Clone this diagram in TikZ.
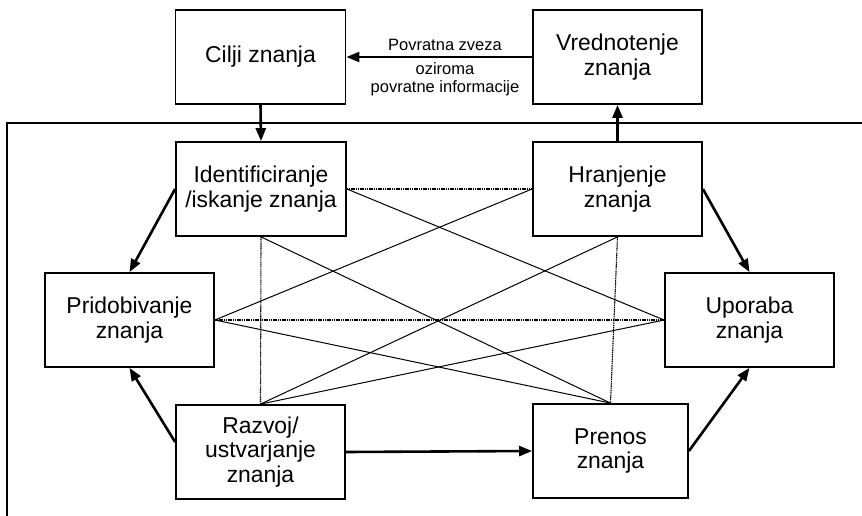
\documentclass[tikz,border=0pt]{standalone}
\usepackage{fontspec}
\setmainfont{Liberation Sans}
\usetikzlibrary{arrows.meta,calc}
\begin{document}
\begin{tikzpicture}[x=1pt,y=-1pt,
  box/.style={draw,line width=1.8pt,minimum height=94pt,align=center,inner sep=0pt,
    font=\fontsize{22.9}{24.5}\selectfont},
  thickarrow/.style={line width=2.6pt,-{Triangle[length=13pt,width=10pt]}},
  thin/.style={line width=1pt},
  dots/.style={line width=1.1pt,dash pattern=on 1.2pt off 0.6pt},
  lab/.style={font=\fontsize{16.5}{17.7}\selectfont,align=center,inner sep=0pt}]
\useasboundingbox (0,0) rectangle (862,516);
% frame
\coordinate (fr1) at (862,123);
\coordinate (fr2) at (7,123);
\coordinate (fr3) at (7,516);
\draw[line width=2.2pt] (fr1) -- (fr2) -- (fr3);
% boxes
\node[box,minimum width=170pt] (cilji) at (260.5,57) {Cilji znanja};
\node[box,minimum width=169pt] (vred) at (617.5,57) {Vrednotenje\\znanja};
\node[box,minimum width=170pt] (ident) at (261,189) {Identificiranje\\/iskanje znanja};
\node[box,minimum width=169pt] (hran) at (617.5,189) {Hranjenje\\znanja};
\node[box,minimum width=169pt] (prido) at (129.5,320) {Pridobivanje\\znanja};
\node[box,minimum width=169pt] (upor) at (749.5,320) {Uporaba\\znanja};
\node[box,minimum width=169pt] (razvoj) at (260.5,452) {Razvoj/\\ustvarjanje\\znanja};
\node[box,minimum width=155pt] (prenos) at (610.5,451) {Prenos\\znanja};
% labels
\node[lab] (lz1) at (445,45) {Povratna zveza};
\node[lab] (lz2) at (445,79) {oziroma\\povratne informacije};
% dotted connections
\draw[dots] (ident.east) -- (hran.west);
\draw[dots] (ident.south) -- (razvoj.north);
\draw[dots] (prido.east) -- (upor.west);
\draw[dots] (hran.south) -- (prenos.north);
% thin solid connections
\draw[thin] (ident.east) -- (upor.west);
\draw[thin] (hran.west) -- (prido.east);
\draw[thin] (ident.south) -- (prenos.north);
\draw[thin] (hran.south) -- (razvoj.north);
\draw[thin] (prido.east) -- (prenos.north);
\draw[thin] (razvoj.north) -- (upor.west);
% thick arrows
\draw[thickarrow] (cilji.south) -- (ident.north);
\draw[thickarrow] (hran.north) -- (vred.south);
\draw[thickarrow] (vred.west) -- (cilji.east);
\draw[thickarrow] (ident.west) -- (prido.north);
\draw[thickarrow] ($(razvoj.west)+(0,-10)$) -- (prido.south);
\draw[thickarrow] (razvoj.east) -- (prenos.west);
\draw[thickarrow] (hran.east) -- (upor.north);
\draw[thickarrow] (prenos.east) -- (upor.south);
\end{tikzpicture}
\end{document}
